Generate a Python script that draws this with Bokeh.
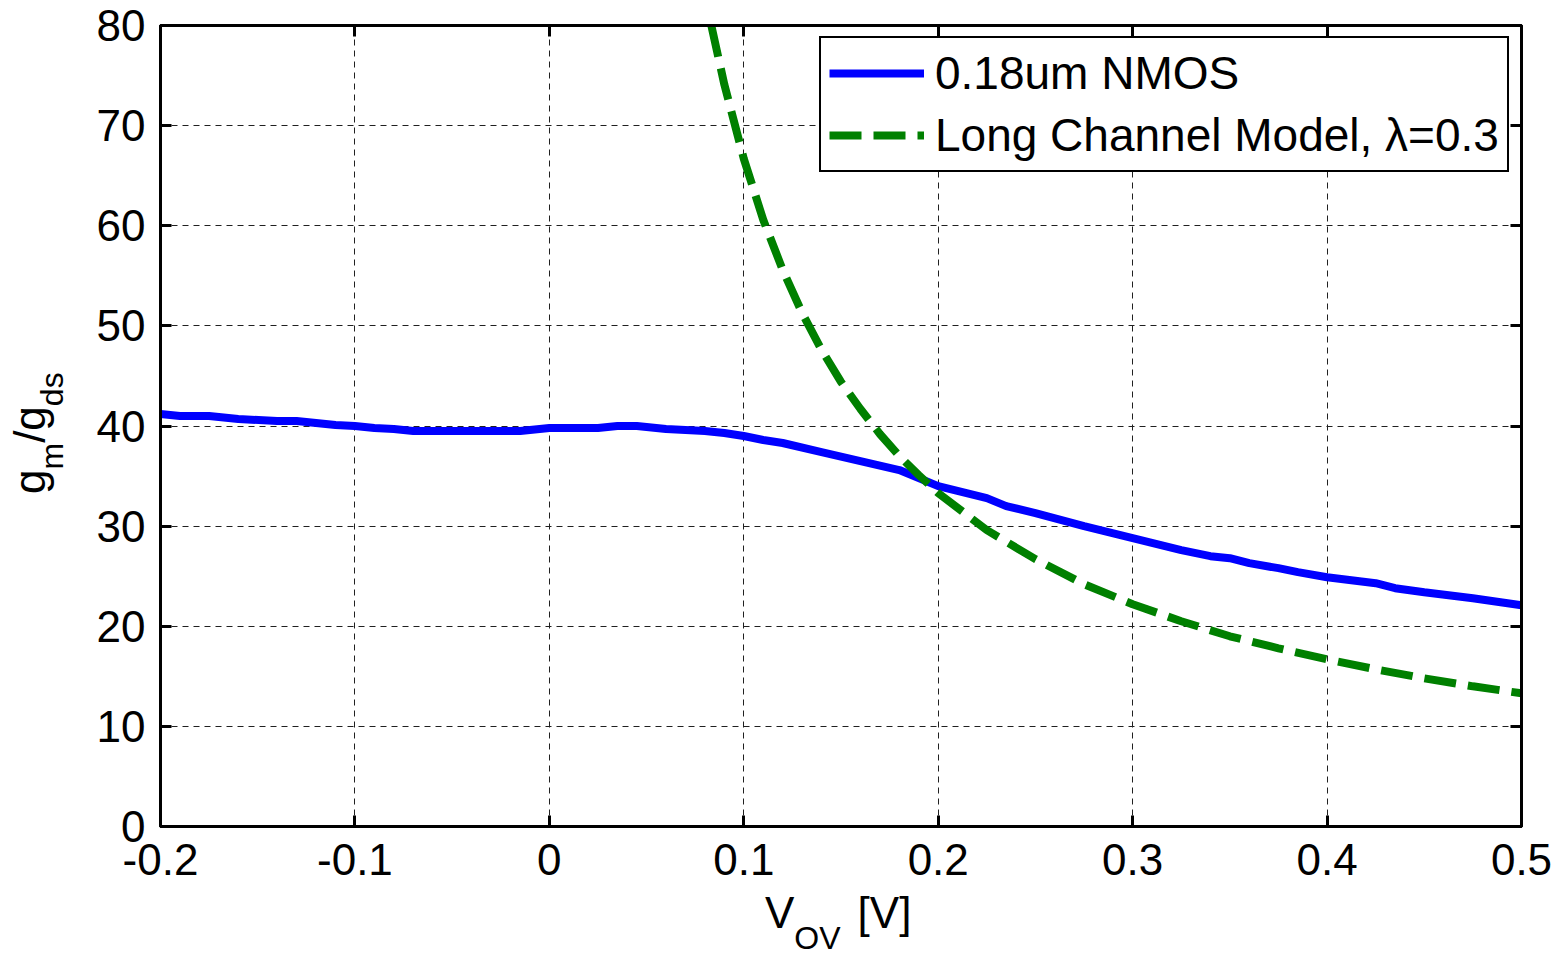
from bokeh.plotting import figure
from bokeh.layouts import row, column
from bokeh.models import (Range1d, FixedTicker, LinearAxis, Legend, LegendItem, Grid, Div)
from bokeh.embed import file_html
from bokeh.resources import INLINE

# ---- data ----
vov_nmos = [-0.2, -0.19, -0.175, -0.16, -0.14, -0.13, -0.11, -0.1, -0.09, -0.08, -0.07,
            -0.05, -0.03, -0.015, 0.0, 0.025, 0.035, 0.045, 0.06, 0.08, 0.09, 0.1, 0.11,
            0.12, 0.14, 0.16, 0.18, 0.2, 0.225, 0.235, 0.25, 0.275, 0.3, 0.325, 0.34,
            0.35, 0.36, 0.375, 0.385, 0.4, 0.425, 0.435, 0.45, 0.475, 0.5]
gain_nmos = [41.2, 41.0, 41.0, 40.7, 40.5, 40.5, 40.1, 40.0, 39.8, 39.7, 39.5,
             39.5, 39.5, 39.5, 39.8, 39.8, 40.0, 40.0, 39.7, 39.5, 39.3, 39.0, 38.6,
             38.3, 37.4, 36.5, 35.6, 34.0, 32.8, 32.0, 31.3, 30.0, 28.8, 27.6, 27.0,
             26.8, 26.3, 25.8, 25.4, 24.9, 24.3, 23.8, 23.4, 22.8, 22.1]

vov_model = [0.0833, 0.09, 0.1, 0.11, 0.12, 0.13, 0.14, 0.15, 0.16, 0.17, 0.18, 0.19,
             0.2, 0.225, 0.25, 0.275, 0.3, 0.325, 0.35, 0.375, 0.4, 0.425, 0.45, 0.475, 0.5]
gain_model = [80.0, 74.1, 66.7, 60.6, 55.6, 51.3, 47.6, 44.4, 41.7, 39.2, 37.0, 35.1,
              33.3, 29.6, 26.7, 24.2, 22.2, 20.5, 19.0, 17.8, 16.7, 15.7, 14.8, 14.0, 13.3]

x_ticks = [-0.2, -0.1, 0, 0.1, 0.2, 0.3, 0.4, 0.5]
x_tick_labels = ["-0.2", "-0.1", "0", "0.1", "0.2", "0.3", "0.4", "0.5"]
y_ticks = [0, 10, 20, 30, 40, 50, 60, 70, 80]
y_tick_labels = ["0", "10", "20", "30", "40", "50", "60", "70", "80"]

series_names = ["0.18um NMOS", "Long Channel Model, \u03bb=0.3"]
x_title = ("V", "OV", "[V]")
y_title = ("g", "m", "/g", "ds")

FONT = "Liberation Sans"

p = figure(width=1474, height=890, output_backend="svg", toolbar_location=None,
           x_range=Range1d(-0.2, 0.5), y_range=Range1d(0, 80),
           min_border_left=70, min_border_right=43, min_border_top=25,
           min_border_bottom=64, x_axis_type=None, y_axis_type=None)
p.background_fill_color = "white"
p.border_fill_color = "white"
p.outline_line_color = "black"
p.outline_line_width = 3


def make_axis(ticks, labels, show_labels):
    ax = LinearAxis(ticker=FixedTicker(ticks=ticks))
    ax.axis_line_color = "black"
    ax.axis_line_width = 3
    ax.major_tick_line_color = "black"
    ax.major_tick_line_width = 3
    ax.major_tick_in = 11
    ax.major_tick_out = 0
    ax.minor_tick_line_color = None
    ax.major_label_text_font = FONT
    if show_labels:
        ax.major_label_overrides = {t: l for t, l in zip(ticks, labels)}
        ax.major_label_text_font_size = "44px"
        ax.major_label_text_color = "black"
    else:
        ax.major_label_text_font_size = "1px"
        ax.major_label_text_color = None
        ax.major_label_standoff = 0
    return ax


xb = make_axis(x_ticks, x_tick_labels, True)
xb.major_label_standoff = 17
yl = make_axis(y_ticks, y_tick_labels, True)
yl.major_label_standoff = 15
p.add_layout(xb, "below")
p.add_layout(yl, "left")
p.add_layout(make_axis(x_ticks, x_tick_labels, False), "above")
p.add_layout(make_axis(y_ticks, y_tick_labels, False), "right")

for dim, ticks in ((0, x_ticks), (1, y_ticks)):
    g = Grid(dimension=dim, ticker=FixedTicker(ticks=ticks))
    g.grid_line_color = "#202020"
    g.grid_line_width = 1
    g.grid_line_dash = "6 5"
    p.add_layout(g, "center")

r1 = p.line(vov_nmos, gain_nmos, line_color="#0000ff", line_width=8)
r2 = p.line(vov_model, gain_model, line_color="#008000", line_width=8,
            line_dash="32 12")

legend = Legend(items=[LegendItem(label=series_names[0], renderers=[r1]),
                       LegendItem(label=series_names[1], renderers=[r2])],
                location=(659, 654))
legend.label_text_font = FONT
legend.label_text_font_size = "46px"
legend.label_text_line_height = 1.0
legend.label_text_color = "black"
legend.glyph_width = 95
legend.glyph_height = 46
legend.label_height = 46
legend.label_standoff = 11
legend.padding = 8
legend.spacing = 8
legend.margin = 0
legend.border_line_color = "black"
legend.border_line_alpha = 1.0
legend.border_line_width = 2
legend.background_fill_color = "white"
legend.background_fill_alpha = 1.0
p.add_layout(legend, "center")

font_css = "font-family:'Liberation Sans',Arial,sans-serif;color:black;white-space:nowrap;"

x_html = (
    f'<div style="{font_css}font-size:44px;line-height:44px;margin-left:675px;margin-top:1px;">'
    f'{x_title[0]}<span style="font-size:32px;position:relative;top:21px;">{x_title[1]}</span>'
    f'<span style="margin-left:17px;">{x_title[2]}</span></div>'
)
y_html = (
    f'<div style="{font_css}font-size:44px;line-height:44px;display:inline-block;'
    f'transform-origin:0 0;transform:translate(8px,494px) rotate(-90deg);">'
    f'{y_title[0]}<span style="font-size:32px;position:relative;top:18px;">{y_title[1]}</span>'
    f'{y_title[2]}<span style="font-size:32px;position:relative;top:18px;">{y_title[3]}</span></div>'
)

xdiv = Div(text=x_html, width=1474, height=65, margin=0)
ydiv = Div(text=y_html, width=90, height=955, margin=0)

layout = row(ydiv, column(p, xdiv, spacing=0), spacing=0)

open("out.html", "w").write(file_html(layout, INLINE))
